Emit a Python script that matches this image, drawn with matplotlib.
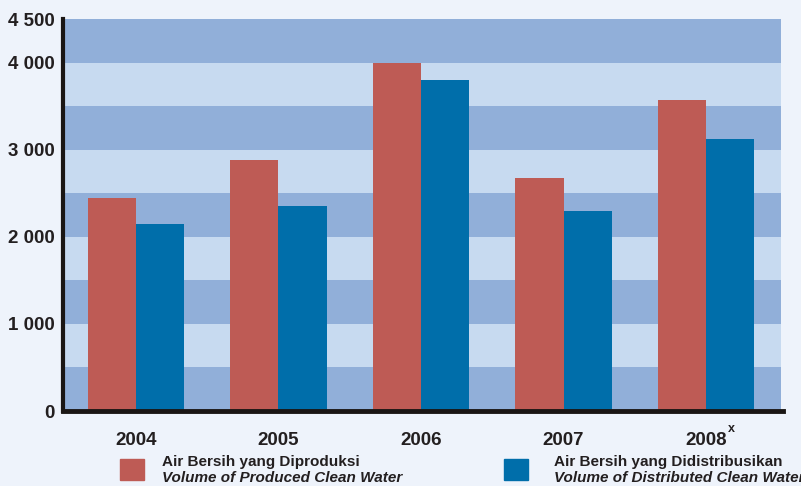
import matplotlib
matplotlib.use("Agg")
import matplotlib.pyplot as plt
from matplotlib.patches import Rectangle

years = ["2004", "2005", "2006", "2007", "2008"]
produced = [2450, 2880, 3990, 2680, 3570]
distributed = [2150, 2350, 3800, 2300, 3120]
yticks = [0, 1000, 2000, 3000, 4000, 4500]
ytick_labels = ["0", "1 000", "2 000", "3 000", "4 000", "4 500"]
legend_labels = [("Air Bersih yang Diproduksi", "Volume of Produced Clean Water"),
                 ("Air Bersih yang Didistribusikan", "Volume of Distributed Clean Water")]

BG = "#EEF3FB"
DARK = "#91AFD9"
LIGHT = "#C7DAF0"
RED = "#BE5B55"
BLUE = "#006EAA"

plt.rcParams['font.family'] = ['Liberation Sans', 'DejaVu Sans']

fig = plt.figure(figsize=(8.01, 4.86), dpi=100, facecolor=BG)
W, H = 801, 486
x0, x1, y0, y1 = 63, 781, 411, 19
ax = fig.add_axes([x0 / W, 1 - y0 / H, (x1 - x0) / W, (y0 - y1) / H])
ax.set_facecolor(LIGHT)

ymax = 4500
ax.set_ylim(0, ymax)
ax.set_xlim(-0.512, 4.526)

for k in range(0, ymax, 500):
    color = DARK if (k // 500) % 2 == 0 else LIGHT
    ax.axhspan(k, k + 500, color=color, lw=0, zorder=0)

w = 0.337
xs = list(range(len(years)))
ax.bar([x - w / 2 for x in xs], produced, width=w, color=RED, zorder=2, lw=0)
ax.bar([x + w / 2 for x in xs], distributed, width=w, color=BLUE, zorder=2, lw=0)

for s in ["top", "right"]:
    ax.spines[s].set_visible(False)
ax.spines["left"].set_linewidth(3)
ax.spines["bottom"].set_linewidth(3.5)
ax.spines["left"].set_color("#1a1614")
ax.spines["bottom"].set_color("#1a1614")
ax.spines["left"].set_zorder(5)
ax.spines["bottom"].set_zorder(5)
ax.spines["bottom"].set_bounds(-0.512, 4.54)

ax.set_yticks(yticks)
ax.set_yticklabels(ytick_labels, fontsize=13.5, fontweight="bold", color="#231f20")
ax.tick_params(axis="y", length=0, pad=6)
ax.set_xticks(xs)
ax.set_xticklabels(years, fontsize=13.5, fontweight="bold", color="#231f20")
ax.tick_params(axis="x", length=0, pad=15)
ax.text(4 + 0.15, -0.045 * ymax, "x", fontsize=9, fontweight="bold", color="#231f20",
        transform=ax.transData, ha="left", va="center", clip_on=False)

# legend
for (sx, tx), col, (l1, l2) in zip([(120, 162), (504, 554)], [RED, BLUE], legend_labels):
    fig.patches.append(Rectangle((sx / W, 1 - 480 / H), 24 / W, 21 / H,
                                 transform=fig.transFigure, color=col))
    fig.text(tx / W, 1 - 462 / H, l1, fontsize=11, fontweight="bold", color="#231f20",
             va="center", ha="left")
    fig.text(tx / W, 1 - 478 / H, l2, fontsize=11, fontweight="bold", style="italic",
             color="#231f20", va="center", ha="left")

fig.savefig("out.png", dpi=100, facecolor=BG)
